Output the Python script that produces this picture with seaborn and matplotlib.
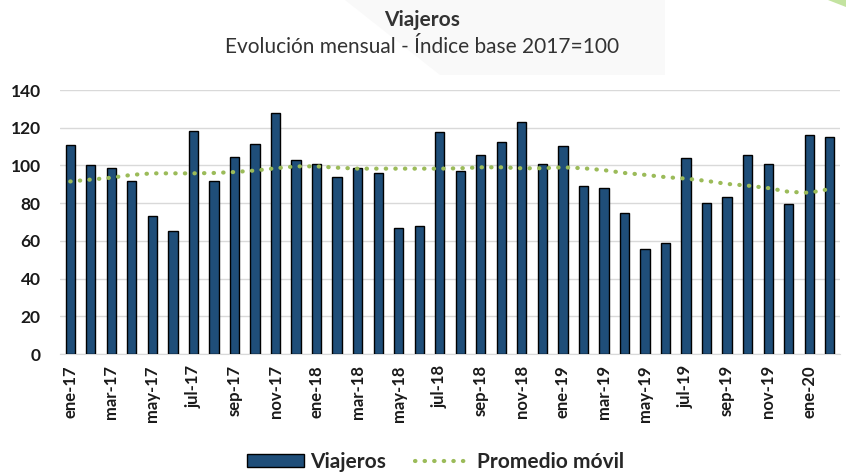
import numpy as np
import pandas as pd
import seaborn as sns
import matplotlib.pyplot as plt
from matplotlib.lines import Line2D
from matplotlib.patches import Patch, Polygon

meses = ['ene', 'feb', 'mar', 'abr', 'may', 'jun', 'jul', 'ago', 'sep', 'oct', 'nov', 'dic']
periodos = [f'{m}-{a}' for a in ['17', '18', '19'] for m in meses] + ['ene-20', 'feb-20']

viajeros = [111, 100, 98.5, 92, 73, 65, 118.5, 92, 104.5, 111.5, 128, 103,
            101, 94, 98.5, 96, 67, 68, 117.5, 97, 105.5, 112.5, 123, 101,
            110.5, 89, 88, 75, 55.5, 59, 104, 80, 83.5, 105.5, 101, 79.5,
            116, 115]

promedio = [91.5, 92.5, 93.5, 95, 95.8, 95.8, 95.8, 96, 96.5, 97.3, 98.5, 99.5,
            99.5, 98.8, 98.3, 98.3, 98.3, 98.3, 98.3, 98.5, 99, 99, 98.5, 98.5,
            99, 98.5, 97.5, 96, 95, 93.8, 93, 91.8, 90.2, 89.3, 88, 86, 85.5, 87.5]

df = pd.DataFrame({'periodo': periodos, 'viajeros': viajeros, 'promedio': promedio})

sns.set_style('white')
plt.rcParams['font.family'] = ['Lato', 'DejaVu Sans']

W, H = 846, 473
fig = plt.figure(figsize=(W / 100, H / 100), dpi=100)
# fondo decorativo (sombra gris y esquina verde)
fig.patches.append(Polygon([[345 / W, 1], [665 / W, 1], [665 / W, 1 - 75 / H], [440 / W, 1 - 75 / H]],
                           closed=True, transform=fig.transFigure, facecolor='#f9f9f9',
                           edgecolor='none', zorder=0))
fig.patches.append(Polygon([[828 / W, 1], [1, 1], [1, 1 - 7 / H]], closed=True,
                           transform=fig.transFigure, facecolor='#c3e3a0', edgecolor='none', zorder=0))

ax = fig.add_axes([60 / W, 1 - 354 / H, 780 / W, 264 / H])
ax.patch.set_alpha(0)

sns.barplot(data=df, x='periodo', y='viajeros', color='#1f4e79', edgecolor='black',
            linewidth=1, width=0.45, saturation=1, ax=ax, zorder=3)
sns.lineplot(x=np.arange(len(promedio)), y=df['promedio'], ax=ax, color='#9bbb59',
             linewidth=3, linestyle=(0, (0.1, 2.2)), dash_capstyle='round', zorder=4)

ax.set_ylim(0, 140)
ax.set_yticks(range(0, 141, 20))
ax.set_xlim(-0.5, 37.5)
ax.set_xticks(range(0, len(periodos), 2))
ax.set_xticklabels(periodos[::2], rotation=90, fontsize=12, fontweight='bold', color='#1a1a1a')
ax.tick_params(axis='y', labelsize=12.5, length=0, pad=14)
ax.tick_params(axis='x', length=0, pad=8)
for lab in ax.get_yticklabels():
    lab.set_fontweight('bold')
    lab.set_color('#1a1a1a')
ax.grid(axis='y', color='#d9d9d9', linewidth=1, zorder=0)
ax.set_axisbelow(True)
for s in ['top', 'right', 'left']:
    ax.spines[s].set_visible(False)
ax.spines['bottom'].set_color('#d9d9d9')
ax.set_xlabel('')
ax.set_ylabel('')

fig.text(422 / W, 1 - 20 / H, 'Viajeros', ha='center', va='center', fontsize=15, fontweight='bold',
         color='#333333')
fig.text(422 / W, 1 - 47 / H, 'Evolución mensual - Índice base 2017=100', ha='center', va='center',
         fontsize=15, color='#333333')

handles = [Patch(facecolor='#1f4e79', edgecolor='black', label='Viajeros'),
           Line2D([0], [0], color='#9bbb59', linewidth=3, linestyle=(0, (0.1, 2.2)),
                  dash_capstyle='round', label='Promedio móvil')]
fig.legend(handles=handles, loc='center', bbox_to_anchor=(436 / W, 1 - 462 / H), ncol=2, frameon=False,
           prop={'weight': 'bold', 'size': 15}, handlelength=2.7, handleheight=0.55,
           columnspacing=1.4, handletextpad=0.3)

fig.savefig('out.png', dpi=100)
